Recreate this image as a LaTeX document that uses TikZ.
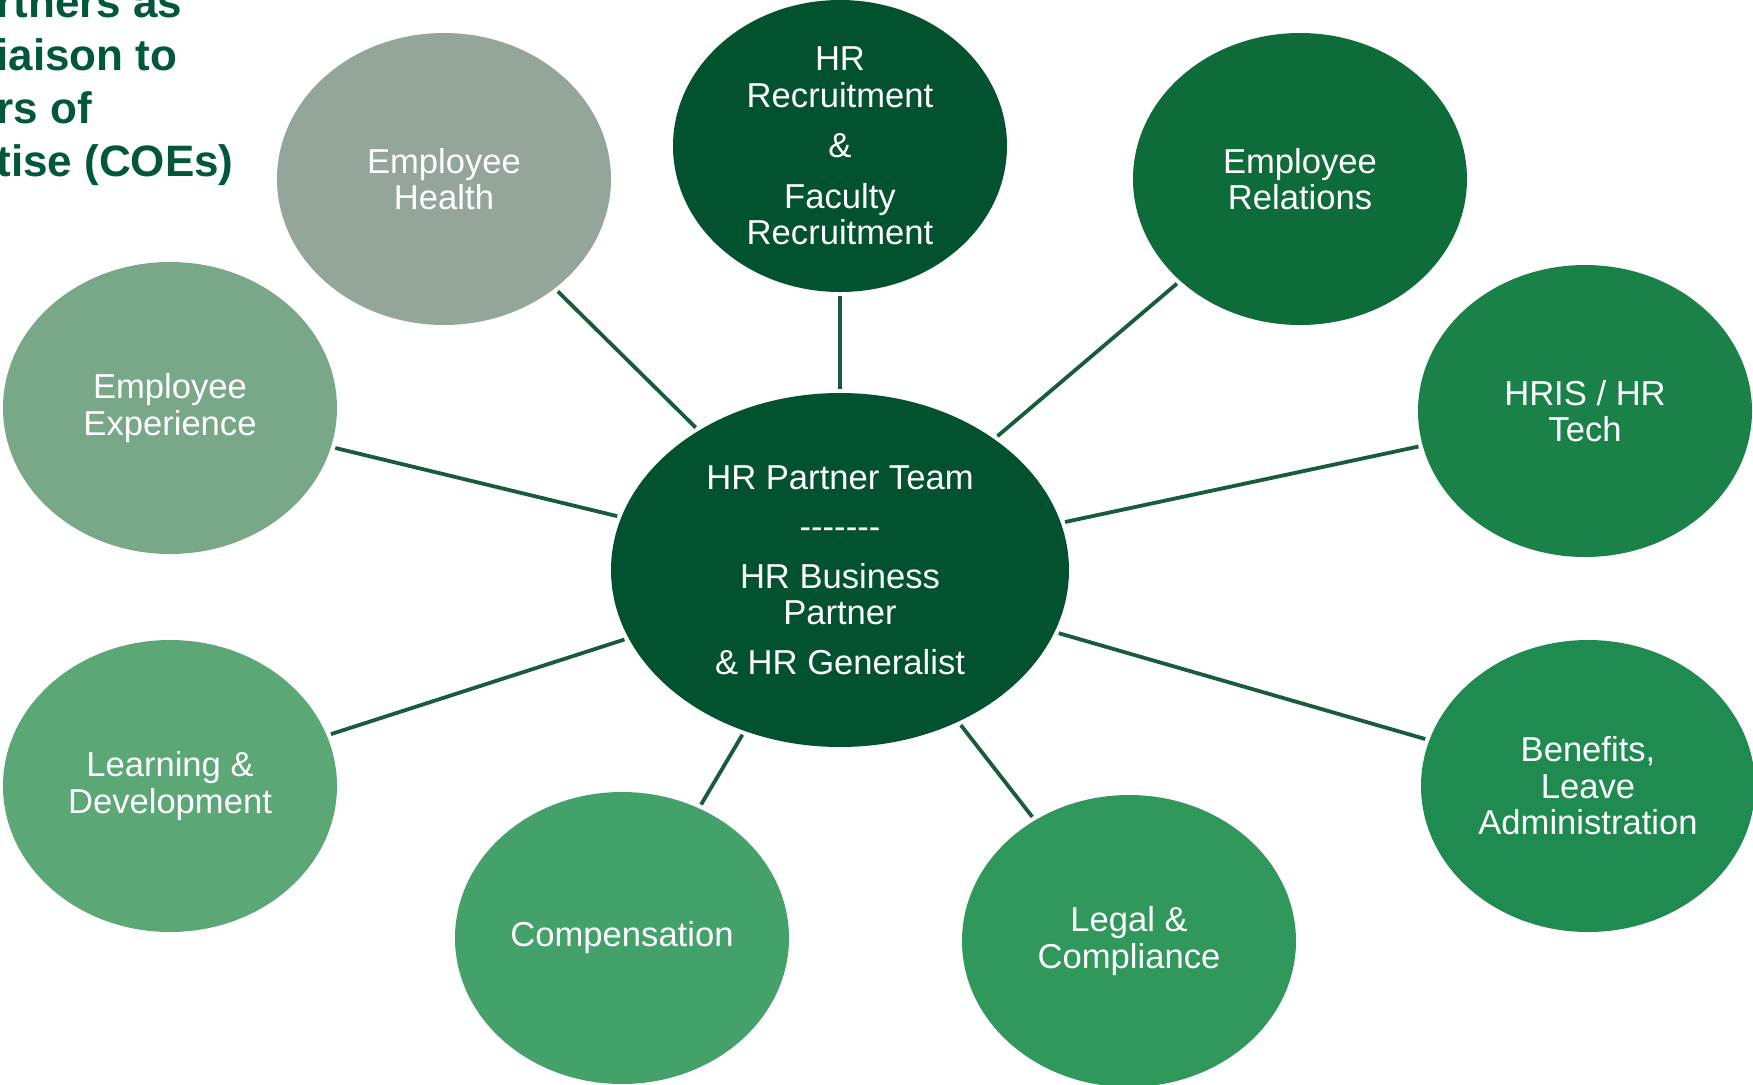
\documentclass[tikz,border=0pt]{standalone}
\usepackage{fontspec}
\setmainfont{Liberation Sans}
\usepackage{xcolor}
\usetikzlibrary{shapes.geometric}

\definecolor{hubgreen}{RGB}{3,82,47}
\definecolor{titlegreen}{RGB}{0,88,56}
\definecolor{linkgreen}{RGB}{24,92,56}
\definecolor{healthgray}{RGB}{148,166,154}
\definecolor{expgreen}{RGB}{120,168,136}
\definecolor{learngreen}{RGB}{91,167,117}
\definecolor{compgreen}{RGB}{68,161,106}
\definecolor{legalgreen}{RGB}{48,152,91}
\definecolor{benefitgreen}{RGB}{31,139,80}
\definecolor{hrisgreen}{RGB}{26,130,72}
\definecolor{relgreen}{RGB}{14,108,58}

\tikzset{
  coe/.style={ellipse, inner sep=0pt, minimum width=167pt, minimum height=146pt,
    text=white, align=center, font=\fontsize{17.3}{18.3}\selectfont},
  hub/.style={coe, minimum width=229pt, minimum height=177pt, fill=hubgreen},
  link/.style={draw=linkgreen, line width=1.9pt, shorten <=2pt, shorten >=2pt}
}

\begin{document}
\begin{tikzpicture}[x=0.5pt, y=-0.5pt]
\useasboundingbox (0,0) rectangle (1753,1084);

% heading, cut off at the page edge
\foreach \txt/\ypos in {rtners as/17, iaison to/70, rs of/123, tise (COEs)/176}
  \node[anchor=base west, inner sep=0pt, text=titlegreen,
        font=\bfseries\fontsize{22}{24}\selectfont] at (-4,\ypos) {\txt};

% hub
\node[hub] (hub) at (840,570) {HR Partner Team\\[6.5pt] -{}-{}-{}-{}-{}-{}-\\[6.5pt]
  HR Business\\ Partner\\[6.5pt] \& HR Generalist};

% centers of expertise
\node[coe, fill=hubgreen] (recruit) at (840,146)
  {HR\\ Recruitment\\[7pt] \&\\[7pt] Faculty\\ Recruitment};
\node[coe, fill=healthgray] (health) at (444,179) {Employee\\ Health};
\node[coe, fill=relgreen] (relations) at (1300,179) {Employee\\ Relations};
\node[coe, fill=expgreen] (experience) at (170,408) {Employee\\ Experience};
\node[coe, fill=hrisgreen] (hris) at (1585,411) {HRIS / HR\\ Tech};
\node[coe, fill=learngreen] (learning) at (170,786) {Learning \&\\ Development};
\node[coe, fill=benefitgreen] (benefits) at (1588,786) {Benefits,\\ Leave\\ Administration};
\node[coe, fill=compgreen] (comp) at (622,938) {Compensation};
\node[coe, fill=legalgreen] (legal) at (1129,941) {Legal \&\\ Compliance};

% spokes
\foreach \n in {recruit, health, relations, experience, hris, learning, benefits, comp, legal}
  \draw[link] (hub) -- (\n);
\end{tikzpicture}
\end{document}
